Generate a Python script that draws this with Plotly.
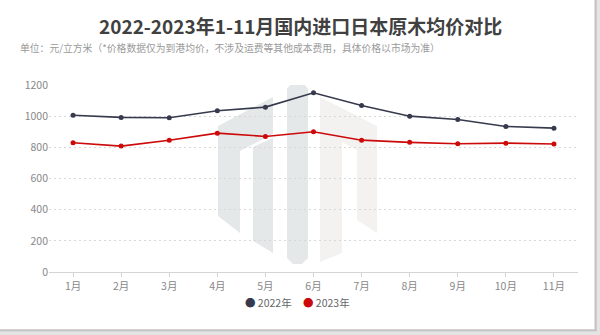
import plotly.graph_objects as go

# Monthly average prices of imported Japanese logs (yuan per cubic metre)
months = ["1月", "2月", "3月", "4月", "5月", "6月", "7月", "8月", "9月", "10月", "11月"]
price_2022 = [1006, 992, 990, 1035, 1058, 1150, 1069, 1000, 979, 934, 923]
price_2023 = [829, 808, 846, 891, 870, 900, 846, 832, 823, 827, 821]
series_names = ["2022年", "2023年"]
series_colors = ["#363a4c", "#cc0a0a"]
y_ticks = [0, 200, 400, 600, 800, 1000, 1200]

W, H = 600, 335
L, R, T, B = 49, 22, 85, 63
FONT = "Noto Sans CJK SC, Noto Sans, sans-serif"


def px(x):
    return (x - L) / (W - L - R)


def py(y):
    return (H - B - y) / (H - T - B)


def poly(points):
    path = "M " + " L ".join(f"{px(x):.4f},{py(y):.4f}" for x, y in points) + " Z"
    return path


fig = go.Figure()
for name, vals, col in zip(series_names, [price_2022, price_2023], series_colors):
    fig.add_trace(go.Scatter(
        x=months, y=vals, name=name, mode="lines+markers",
        line=dict(color=col, width=1.6),
        marker=dict(color=col, size=5),
        showlegend=False,
    ))

shapes = []
# faint logo watermark behind the plot
logo_dark = "#e4e8e8"
logo_light = "#f3f2f0"
for pts, col in [
    ([(218, 126), (273, 97), (273, 134), (240, 151), (240, 233), (218, 216)], logo_dark),
    ([(253, 147), (273, 138), (273, 253), (253, 241)], logo_dark),
    ([(290, 85), (305, 85), (308, 89), (308, 258), (302, 264), (293, 264), (287, 258), (287, 89)], logo_dark),
    ([(320, 97), (377, 126), (377, 233), (357, 220), (357, 150), (342, 142),
      (342, 253), (320, 262)], logo_light),
]:
    shapes.append(dict(type="path", path=poly(pts), xref="paper", yref="paper",
                       fillcolor=col, line=dict(width=0), layer="below"))

# card shadow along right and bottom edges
shapes += [
    dict(type="rect", xref="paper", yref="paper", x0=px(596.5), x1=px(601), y0=py(336), y1=py(-1),
         fillcolor="#e4e4e4", line=dict(width=0), layer="below"),
    dict(type="rect", xref="paper", yref="paper", x0=px(594.5), x1=px(596.8), y0=py(331), y1=py(-1),
         fillcolor="#c4c4c4", line=dict(width=0), layer="below"),
    dict(type="rect", xref="paper", yref="paper", x0=px(-1), x1=px(601), y0=py(336), y1=py(331.5),
         fillcolor="#e4e4e4", line=dict(width=0), layer="below"),
    dict(type="rect", xref="paper", yref="paper", x0=px(-1), x1=px(596.8), y0=py(331.5), y1=py(329.3),
         fillcolor="#c4c4c4", line=dict(width=0), layer="below"),
]

annotations = [
    dict(text="<b>2022-2023年1-11月国内进口日本原木均价对比</b>", x=px(300), xref="paper", xanchor="center",
         y=py(25), yref="paper", yanchor="middle", showarrow=False,
         font=dict(family=FONT, size=19, color="#404040")),
    dict(text="单位：元/立方米（*价格数据仅为到港均价，不涉及运费等其他成本费用，具体价格以市场为准）",
         x=px(18), xref="paper", xanchor="left", y=py(48), yref="paper", yanchor="middle",
         showarrow=False, font=dict(family=FONT, size=9.8, color="#9a9a9a")),
]
# legend drawn as coloured dots with labels
for name, col, x0 in zip(series_names, series_colors, [243, 301]):
    annotations.append(dict(
        text=f"<span style='color:{col};font-size:10.5px'>●</span> {name}",
        x=px(x0), xref="paper", xanchor="left", y=py(302), yref="paper", yanchor="middle",
        showarrow=False, font=dict(family=FONT, size=10.5, color="#666666")))

fig.update_layout(
    width=W, height=H,
    margin=dict(l=L, r=R, t=T, b=B, autoexpand=False),
    paper_bgcolor="white", plot_bgcolor="rgba(0,0,0,0)",
    font=dict(family=FONT, size=10.5, color="#888888"),
    shapes=shapes, annotations=annotations,
    xaxis=dict(type="category", range=[-0.5, len(months) - 0.5], showgrid=False,
               showline=True, linecolor="#d4d4d4", linewidth=1,
               ticks="outside", ticklen=4, tickcolor="#d4d4d4", automargin=False,
               tickfont=dict(family=FONT, size=10.5, color="#888888"), fixedrange=True),
    yaxis=dict(range=[0, 1200], tickvals=y_ticks, showline=False, zeroline=False,
               showgrid=True, gridcolor="#d8d8d8", griddash="2px,3px", gridwidth=1,
               automargin=False,
               tickfont=dict(family=FONT, size=10.5, color="#888888"), ticks="", fixedrange=True),
    showlegend=False,
)

fig.write_html("out.html")
